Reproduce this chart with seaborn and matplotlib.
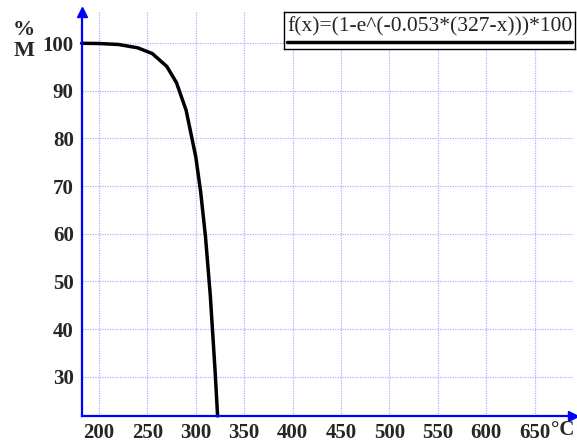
import matplotlib
matplotlib.use("Agg")
import matplotlib.pyplot as plt
import seaborn as sns
import pandas as pd

# Curve values (temperature in °C, % M)
temps = [182, 200, 220, 240, 255, 270, 280, 290, 300, 305, 310, 315, 320, 322.5]
martensite = [99.95, 99.9, 99.7, 99.0, 97.8, 95.1, 91.7, 85.9, 76.1, 68.8, 59.4, 47.0, 31.0, 21.8]

x_ticks = [200, 250, 300, 350, 400, 450, 500, 550, 600, 650]
y_ticks = [30, 40, 50, 60, 70, 80, 90, 100]
formula = "f(x)=(1-e^(-0.053*(327-x)))*100"

df = pd.DataFrame({"T": temps, "M": martensite})

sns.set_style("white")
plt.rcParams["font.family"] = ["Liberation Serif", "DejaVu Serif"]

BLUE = "#0000ff"
GRID = "#b0b0ff"

fig = plt.figure(figsize=(5.77, 4.46), dpi=100)
ax = fig.add_axes([0.1421, 0.0673, 0.8509, 0.9057])

sns.lineplot(data=df, x="T", y="M", ax=ax, color="black", linewidth=2.5, clip_on=False)

ax.set_xlim(182.4, 689.7)
ax.set_ylim(21.8, 106.5)
ax.set_xticks(x_ticks)
ax.set_yticks(y_ticks)
ax.set_xticklabels([str(v) for v in x_ticks])
ax.set_xlabel("")
ax.set_ylabel("")

ax.grid(True, color=GRID, linestyle=(0, (1, 1)), linewidth=0.9)
ax.set_axisbelow(True)

for side in ["top", "right"]:
    ax.spines[side].set_visible(False)
for side in ["left", "bottom"]:
    ax.spines[side].set_color(BLUE)
    ax.spines[side].set_linewidth(1.6)

ax.tick_params(axis="x", direction="in", length=3, width=1.2, color=BLUE, pad=5, labelsize=15)
ax.tick_params(axis="y", direction="out", length=4, width=1.2, color=BLUE, pad=2, labelsize=15)
for lab in ax.get_xticklabels() + ax.get_yticklabels():
    lab.set_fontweight("bold")

# arrow heads at the axis ends
ax.plot([0], [1], marker="^", color=BLUE, markersize=7, transform=ax.transAxes, clip_on=False)
ax.plot([1], [0], marker=">", color=BLUE, markersize=7, transform=ax.transAxes, clip_on=False)

# axis unit labels
fig.text(24 / 577, 1 - 30 / 446, "%", fontsize=16, fontweight="bold", ha="center", va="center")
fig.text(24 / 577, 1 - 51 / 446, "M", fontsize=16, fontweight="bold", ha="center", va="center")
fig.text(551 / 577, 1 - 430 / 446, "°C", fontsize=15, fontweight="bold", ha="left", va="center")

# legend box with formula
box = fig.add_axes([284 / 577, 1 - 49 / 446, 291 / 577, 37 / 446])
box.set_xlim(0, 1)
box.set_ylim(0, 1)
box.set_xticks([])
box.set_yticks([])
for s in box.spines.values():
    s.set_color("black")
    s.set_linewidth(1.0)
box.set_facecolor("white")
box.text(0.5, 0.6, formula, fontsize=15.5, ha="center", va="center")
box.plot([0.012, 0.988], [0.2, 0.2], color="black", linewidth=2.5)

fig.savefig("out.png", dpi=100)
